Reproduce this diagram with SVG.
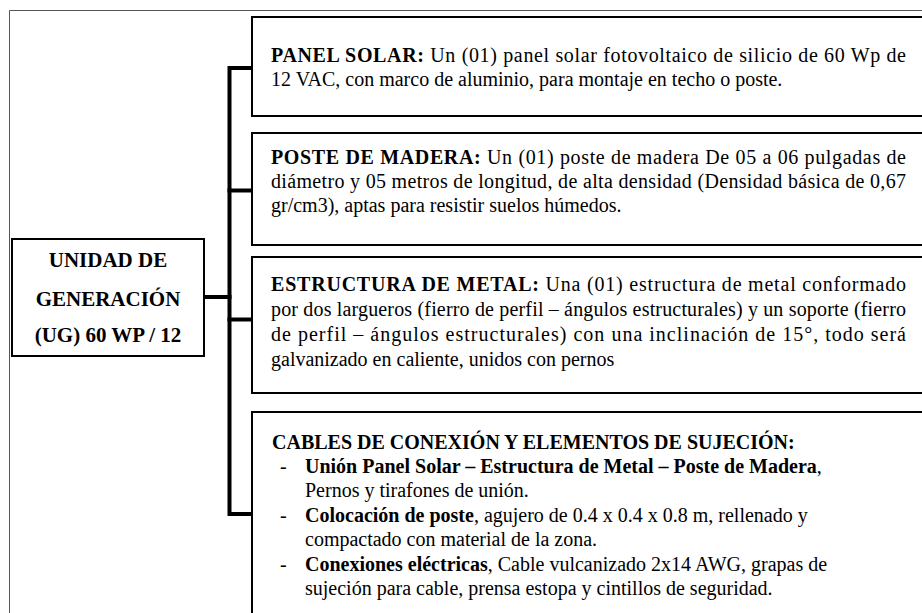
<svg xmlns="http://www.w3.org/2000/svg" width="922" height="613" viewBox="0 0 922 613">
<style>
.frame{fill:none;stroke:#555;stroke-width:1}
.box{fill:#fff;stroke:#000;stroke-width:2}
.con{fill:none;stroke:#000;stroke-width:4;stroke-linecap:square}
.t{font-family:"Liberation Serif","Times New Roman",serif;font-size:20px;fill:#000}
.b{font-weight:bold}
.n{font-family:"Liberation Serif","Times New Roman",serif;font-size:21px;font-weight:bold;fill:#000;text-anchor:middle}
</style>
<rect width="922" height="613" fill="#fff"/>
<path class="frame" d="M9.5,613 V10.5 H922"/>
<g id="connectors">
<path class="con" d="M252,68 H229.5 V514 H252"/>
<path class="con" d="M229.5,190.5 H252"/>
<path class="con" d="M229.5,319.5 H252"/>
<path class="con" d="M205,297 H229.5"/>
</g>
<g id="node-ug">
<rect class="box" x="12" y="239" width="192" height="117"/>
<text class="n" x="108" y="267">UNIDAD DE</text>
<text class="n" x="108" y="306">GENERACIÓN</text>
<text class="n" x="108" y="342">(UG) 60 WP / 12</text>
</g>
<g id="node-panel">
<rect class="box" x="252" y="17" width="700" height="99"/>
<text class="t" x="271" y="62" textLength="635"><tspan class="b">PANEL SOLAR:</tspan> Un (01) panel solar fotovoltaico de silicio de 60 Wp de</text>
<text class="t" x="271" y="86">12 VAC, con marco de aluminio, para montaje en techo o poste.</text>
</g>
<g id="node-poste">
<rect class="box" x="252" y="133" width="700" height="112"/>
<text class="t" x="271" y="164" textLength="635"><tspan class="b">POSTE DE MADERA:</tspan> Un (01) poste de madera De 05 a 06 pulgadas de</text>
<text class="t" x="271" y="188" textLength="635">diámetro y 05 metros de longitud, de alta densidad (Densidad básica de 0,67</text>
<text class="t" x="271" y="212">gr/cm3), aptas para resistir suelos húmedos.</text>
</g>
<g id="node-estructura">
<rect class="box" x="252" y="257" width="700" height="136"/>
<text class="t" x="271" y="291" textLength="635"><tspan class="b">ESTRUCTURA DE METAL:</tspan> Una (01) estructura de metal conformado</text>
<text class="t" x="271" y="316" textLength="635">por dos largueros (fierro de perfil – ángulos estructurales) y un soporte (fierro</text>
<text class="t" x="271" y="341" textLength="635">de perfil – ángulos estructurales) con una inclinación de 15°, todo será</text>
<text class="t" x="271" y="366">galvanizado en caliente, unidos con pernos</text>
</g>
<g id="node-cables">
<rect class="box" x="252" y="412" width="700" height="240"/>
<text class="t b" x="272" y="449">CABLES DE CONEXIÓN Y ELEMENTOS DE SUJECIÓN:</text>
<text class="t" x="280" y="473">-</text>
<text class="t" x="305" y="473"><tspan class="b">Unión Panel Solar – Estructura de Metal – Poste de Madera</tspan>,</text>
<text class="t" x="305" y="497">Pernos y tirafones de unión.</text>
<text class="t" x="280" y="522">-</text>
<text class="t" x="305" y="522"><tspan class="b">Colocación de poste</tspan>, agujero de 0.4 x 0.4 x 0.8 m, rellenado y</text>
<text class="t" x="305" y="546">compactado con material de la zona.</text>
<text class="t" x="280" y="571">-</text>
<text class="t" x="305" y="571"><tspan class="b">Conexiones eléctricas</tspan>, Cable vulcanizado 2x14 AWG, grapas de</text>
<text class="t" x="305" y="595">sujeción para cable, prensa estopa y cintillos de seguridad.</text>
</g>
</svg>
